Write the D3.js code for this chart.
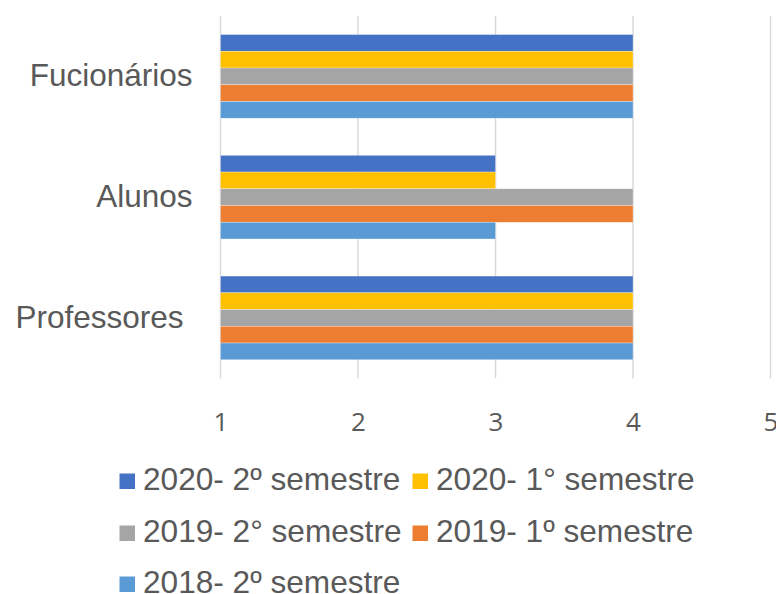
<!DOCTYPE html>
<html>
<head>
<meta charset="utf-8">
<script src="https://cdn.jsdelivr.net/npm/d3@7"></script>
<style>
  html, body { margin: 0; padding: 0; background: #fff; }
  svg { display: block; }
</style>
</head>
<body>
<svg id="chart" width="776" height="594"></svg>
<script>
const categories = ["Fucionários", "Alunos", "Professores"];
const seriesNames = ["2020- 2º semestre", "2020- 1° semestre", "2019- 2° semestre", "2019- 1º semestre", "2018- 2º semestre"];
const seriesColors = ["#4472C4", "#FFC000", "#A5A5A5", "#ED7D31", "#5B9BD5"];
const values2020s2 = [4, 3, 4];
const values2020s1 = [4, 3, 4];
const values2019s2 = [4, 4, 4];
const values2019s1 = [4, 4, 4];
const values2018s2 = [4, 3, 4];
const xTicks = [1, 2, 3, 4, 5];

const seriesValues = [values2020s2, values2020s1, values2019s2, values2019s1, values2018s2];

const svg = d3.select("#chart");
const textColor = "#595959";

const x = d3.scaleLinear().domain([1, 5]).range([220.5, 770.5]);
const y = d3.scaleBand().domain(categories).range([16, 378.3]).paddingInner(0.307).paddingOuter(0.1535);
const ySub = d3.scaleBand().domain(seriesNames).range([0, y.bandwidth()]);

// gridlines
svg.append("g").selectAll("line").data(xTicks).join("line")
  .attr("x1", d => x(d)).attr("x2", d => x(d))
  .attr("y1", 16).attr("y2", 378.3)
  .attr("stroke", "#D9D9D9").attr("stroke-width", 1.5);

// bars
const groups = svg.append("g").selectAll("g").data(categories).join("g")
  .attr("transform", d => `translate(0,${y(d)})`);
groups.selectAll("rect").data((c, ci) => seriesNames.map((s, si) => ({ s, si, v: seriesValues[si][ci] })))
  .join("rect")
  .attr("x", x(1))
  .attr("y", d => ySub(d.s))
  .attr("width", d => x(d.v) - x(1))
  .attr("height", ySub.bandwidth())
  .attr("fill", d => seriesColors[d.si])
  .attr("stroke", "#ffffff").attr("stroke-opacity", 0.5).attr("stroke-width", 0.6);

// x axis tick labels
const xAxis = d3.axisBottom(x).tickValues(xTicks).tickSize(0).tickPadding(0).tickFormat(d3.format("d"));
const gx = svg.append("g").attr("transform", "translate(0,430.5)").call(xAxis);
gx.select(".domain").remove();
gx.selectAll("text")
  .attr("fill", textColor)
  .attr("font-family", "'Open Sans', Lato, sans-serif")
  .attr("font-size", 26)
  .attr("y", 0)
  .attr("dy", 0);

// y axis category labels
const yAxis = d3.axisLeft(y).tickSize(0).tickPadding(28);
const gy = svg.append("g").attr("transform", "translate(220.5,0)").call(yAxis);
gy.select(".domain").remove();
gy.selectAll("text")
  .attr("fill", textColor)
  .attr("font-family", "'Liberation Sans', Arial, sans-serif")
  .attr("font-size", 31.5)
  .attr("dx", d => d === "Professores" ? -9 : 0);

// legend
const legendPos = [
  { x: 119.5, y: 490 }, { x: 412.5, y: 490 },
  { x: 119.5, y: 542 }, { x: 412.5, y: 542 },
  { x: 119.5, y: 593 }
];
const legend = svg.append("g").selectAll("g").data(seriesNames).join("g")
  .attr("transform", (d, i) => `translate(${legendPos[i].x},${legendPos[i].y})`);
legend.append("rect")
  .attr("x", 0).attr("y", -16.5).attr("width", 15.5).attr("height", 15.5)
  .attr("fill", (d, i) => seriesColors[i]);
legend.append("text")
  .attr("x", 23.5).attr("y", 0)
  .attr("fill", textColor)
  .attr("font-family", "'Liberation Sans', Arial, sans-serif")
  .attr("font-size", 31.6)
  .text(d => d);
</script>
</body>
</html>
